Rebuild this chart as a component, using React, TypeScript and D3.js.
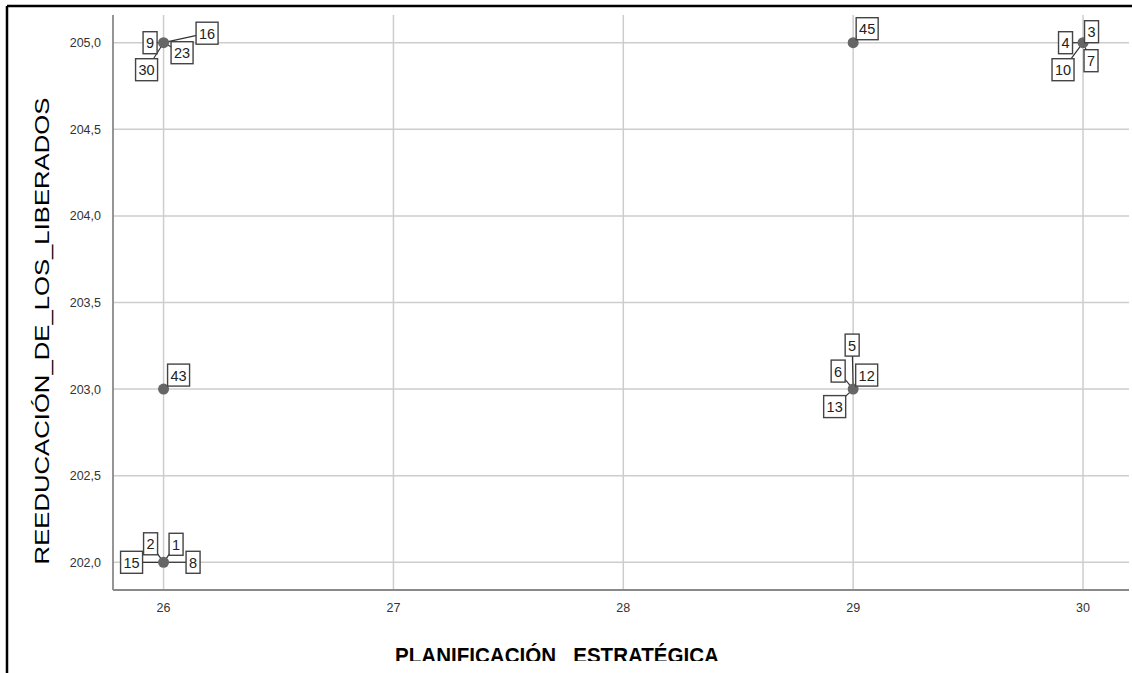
import React from "react";
import * as d3 from "d3";

// ---- data ----
const xValues = [26, 29, 30, 26, 29, 26];
const yValues = [205, 205, 205, 203, 203, 202];
const caseLabels = [
  ["9", "16", "23", "30"],
  ["45"],
  ["3", "4", "7", "10"],
  ["43"],
  ["5", "6", "12", "13"],
  ["1", "2", "8", "15"],
];
const xTicks = [26, 27, 28, 29, 30];
const yTicks = [202, 202.5, 203, 203.5, 204, 204.5, 205];
const xTitle = "PLANIFICACIÓN   ESTRATÉGICA";
const yTitle = "REEDUCACIÓN_DE_LOS_LIBERADOS";

// ---- layout (label box offsets in px, relative to point) ----
const labelOffsets: Record<string, [number, number]> = {
  "9": [-13.5, 0], "16": [43.5, -9.5], "23": [18.5, 10], "30": [-17, 27],
  "45": [14, -14],
  "3": [8.5, -11], "4": [-17.5, 0], "10": [-20, 27], "7": [8, 18],
  "43": [15, -14],
  "5": [-1, -44], "6": [-15, -18], "12": [13.5, -14], "13": [-18.5, 17.5],
  "2": [-13, -18.5], "1": [12.5, -18], "15": [-32, 0], "8": [29.5, 0],
};

const W = 1132, H = 673;
const left = 113, right = 1129, top = 15, bottom = 590;

export default function App() {
  const x = d3.scaleLinear().domain([25.78, 30.2]).range([left, right]);
  const y = d3.scaleLinear().domain([201.84, 205.16]).range([bottom, top]);
  const fmt = (v: number) => d3.format(".1f")(v).replace(".", ",");
  const font = "'Liberation Sans', Arial, sans-serif";

  const points = xValues.map((xv, i) => ({ px: x(xv), py: y(yValues[i]), labels: caseLabels[i] }));

  return (
    <div style={{ position: "fixed", left: 0, top: 0 }}>
      <svg width={W} height={H} style={{ display: "block", background: "#fff" }}>
        <defs>
          <clipPath id="clipTitle">
            <rect x={0} y={0} width={W} height={661} />
          </clipPath>
        </defs>
        {/* frame */}
        <line x1={7} y1={6} x2={W} y2={6} stroke="#000" strokeWidth={2.5} />
        <line x1={7} y1={6} x2={7} y2={H} stroke="#000" strokeWidth={2.5} />
        {/* grid */}
        {yTicks.map((t) => (
          <line key={"gy" + t} x1={left} x2={right} y1={y(t)} y2={y(t)} stroke="#cdcdcd" strokeWidth={1.5} />
        ))}
        {xTicks.map((t) => (
          <line key={"gx" + t} x1={x(t)} x2={x(t)} y1={top} y2={bottom} stroke="#cdcdcd" strokeWidth={1.5} />
        ))}
        {/* axes */}
        <line x1={left} x2={left} y1={top} y2={bottom} stroke="#8a8a8a" strokeWidth={1.8} />
        <line x1={left} x2={right} y1={bottom} y2={bottom} stroke="#8a8a8a" strokeWidth={1.8} />
        {/* tick labels */}
        {yTicks.map((t) => (
          <text key={"ty" + t} x={101} y={y(t) + 4.5} textAnchor="end" fontFamily={font} fontSize={12.5} fill="#333">
            {fmt(t)}
          </text>
        ))}
        {xTicks.map((t) => (
          <text key={"tx" + t} x={x(t)} y={612} textAnchor="middle" fontFamily={font} fontSize={12.5} fill="#333">
            {t}
          </text>
        ))}
        {/* titles */}
        <g transform={`translate(49,331) rotate(-90) scale(1.285,1)`}>
          <text textAnchor="middle" fontFamily={font} fontSize={20} fill="#000">
            {yTitle}
          </text>
        </g>
        <g clipPath="url(#clipTitle)">
          <g transform={`translate(557,663) scale(0.935,1)`}>
            <text
              textAnchor="middle"
              fontFamily={font}
              fontWeight="bold"
              fontSize={22}
              fill="#000"
              style={{ whiteSpace: "pre" }}
            >
              {xTitle}
            </text>
          </g>
        </g>
        {/* leader lines */}
        {points.map((p, i) =>
          p.labels.map((lb) => {
            const [dx, dy] = labelOffsets[lb];
            return (
              <line key={"ll" + i + lb} x1={p.px} y1={p.py} x2={p.px + dx} y2={p.py + dy} stroke="#333" strokeWidth={1.2} />
            );
          })
        )}
        {/* points */}
        {points.map((p, i) => (
          <circle key={"pt" + i} cx={p.px} cy={p.py} r={5.5} fill="#666" />
        ))}
        {/* label boxes */}
        {points.map((p, i) =>
          p.labels.map((lb) => {
            const [dx, dy] = labelOffsets[lb];
            const bw = lb.length > 1 ? 22 : 14;
            const bh = 22;
            const cx = p.px + dx, cy = p.py + dy;
            return (
              <g key={"lb" + i + lb}>
                <rect x={cx - bw / 2} y={cy - bh / 2} width={bw} height={bh} fill="#fff" stroke="#444" strokeWidth={1.4} />
                <text x={cx} y={cy + 5.5} textAnchor="middle" fontFamily={font} fontSize={14.5} fill="#222">
                  {lb}
                </text>
              </g>
            );
          })
        )}
      </svg>
    </div>
  );
}
